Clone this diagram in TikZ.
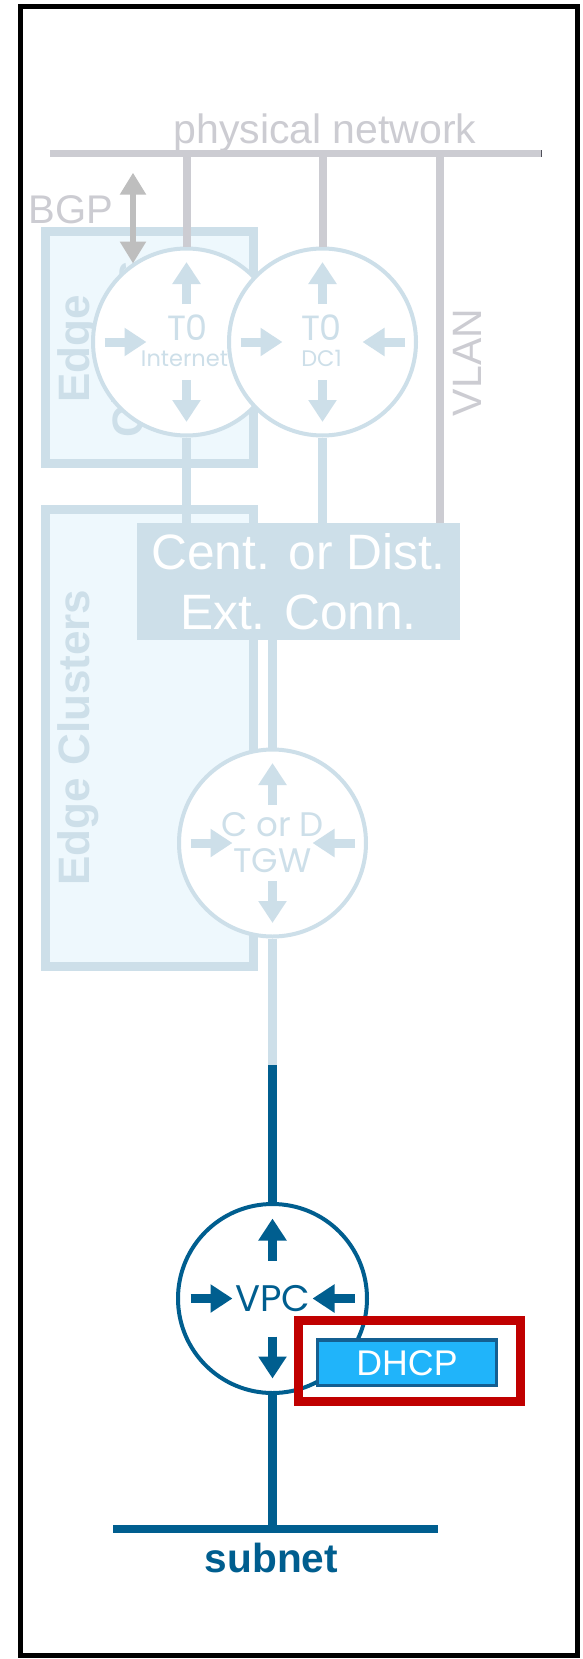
\documentclass[tikz,border=0pt]{standalone}
\usepackage{fontspec}
\setmainfont{Liberation Sans}
\newfontfamily\geofont{Poppins}
\usetikzlibrary{arrows.meta}
\usetikzlibrary{calc}

% four arrows of a router symbol
\newcommand{\routerarrows}[2]{%
  \foreach \ang in {90,270}
    \draw[routerarrow,#2] ($(#1.center)+(\ang:38)$) -- ($(#1.center)+(\ang:80)$);%
  \foreach \ang in {0,180}
    \draw[routerarrow,#2] ($(#1.center)+(\ang:82)$) -- ($(#1.center)+(\ang:40)$);%
}

\begin{document}
\begin{tikzpicture}[x=1pt,y=-1pt,
    greyline/.style={draw=r204g204b210,line width=8pt},
    lightline/.style={draw=r205g223b233,line width=9pt},
    darkline/.style={draw=r0g94b143,line width=8.5pt},
    greytext/.style={text=r204g204b210,inner sep=0pt},
    edgebox/.style={draw=r205g223b233,fill=r238g248b253,line width=9pt,inner sep=0pt,minimum width=208pt},
    edgetext/.style={text=r205g223b233,font=\bfseries\fontsize{44}{54}\selectfont,rotate=90,inner sep=0pt},
    router/.style={circle,fill=white,line width=4pt,minimum size=187pt,inner sep=0pt},
    routerarrow/.style={line width=9pt,-{Triangle[length=22pt,width=27pt]}},
    t0big/.style={text=r205g223b233,font=\geofont\fontsize{35}{35}\selectfont,anchor=base,inner sep=0pt},
    t0small/.style={text=r205g223b233,font=\geofont\fontsize{22.5}{23}\selectfont,anchor=base,inner sep=0pt},
  ]
  % Changing colors
  \definecolor{r205g223b233}{RGB}{205,223,233}%
  \definecolor{r238g248b253}{RGB}{238,248,253}%
  \definecolor{r204g204b210}{RGB}{204,204,210}%
  \definecolor{r190g190b190}{RGB}{190,190,190}%
  \definecolor{r0g94b143}{RGB}{0,94,143}%
  \definecolor{r32g180b250}{RGB}{32,180,250}%
  \definecolor{r20g95b145}{RGB}{20,95,145}%
  \definecolor{r192g0b0}{RGB}{192,0,0}%
  \definecolor{r80g80b90}{RGB}{80,80,90}%

  \fill[white] (0,0) rectangle (582,1659);
  \useasboundingbox (0,0) rectangle (582,1659);

  % Drawing edge clusters
  \node[edgebox,minimum height=231.5pt] (edgeA) at (149,347.25) {};
  \node[edgetext,align=center] (edgeAlabel) at (101,349) {Edge\\Clusters};
  \node[edgebox,minimum height=457pt] (edgeB) at (149,737.5) {};
  \node[edgetext,anchor=base] (edgeBlabel) at (89,737.5) {Edge Clusters};

  % Drawing physical network
  \coordinate (physW) at (50,153.5);
  \coordinate (physE) at (542,153.5);
  \draw[greyline,line width=7pt] (physW) -- (physE);
  \draw[line width=1.5pt,r80g80b90] (541.25,150) -- (541.25,157);
  \node[greytext,anchor=base,font=\fontsize{41}{41}\selectfont] (physlabel) at (325,143) {physical network};
  \coordinate (tapInet) at (186.5,153.5);
  \coordinate (tapDC) at (322.5,153.5);
  \coordinate (tapVlan) at (440,153.5);
  \node[greytext,rotate=90,anchor=base,font=\fontsize{41}{41}\selectfont] (vlanlabel) at (481.7,362.5) {VLAN};

  % Drawing external connectivity
  \node[fill=r205g223b233,text=white,minimum width=323pt,minimum height=117pt,inner sep=0pt,align=center,font=\fontsize{49.7}{60}\selectfont] (ext) at (298.5,581.5) {Cent. or Dist.\\Ext. Conn.};

  % Drawing tier 0 routers
  \node[router,draw=r205g223b233] (t0inet) at (186.5,342) {};
  \routerarrows{t0inet}{r205g223b233}
  \node[t0big] (t0inetName) at (187.5,340) {T0};
  \node[t0small] (t0inetSub) at (184.5,366.7) {Internet};
  \node[router,draw=r205g223b233] (t0dc) at (322.5,342) {};
  \routerarrows{t0dc}{r205g223b233}
  \node[t0big] (t0dcName) at (321.5,340) {T0};
  \node[t0small] (t0dcSub) at (321.5,366.7) {DC1};

  \draw[greyline] (tapInet) -- (t0inet);
  \draw[greyline] (tapDC) -- (t0dc);
  \draw[greyline] (tapVlan) -- (tapVlan |- ext.north);
  \draw[lightline] (t0inet) -- (t0inet |- ext.north);
  \draw[lightline] (t0dc) -- (t0dc |- ext.north);

  % Drawing BGP
  \node[greytext,anchor=base,font=\fontsize{40}{40}\selectfont] (bgplabel) at (71,223) {BGP};
  \coordinate (bgpTop) at (133,172.7);
  \coordinate (bgpBot) at (133,263.5);
  \draw[draw=r190g190b190,line width=6pt,{Triangle[length=22pt,width=25pt]}-{Triangle[length=22pt,width=25pt]}] (bgpTop) -- (bgpBot);

  % Drawing transit gateway
  \node[router,draw=r205g223b233,text=r205g223b233,align=center,font=\geofont\fontsize{34}{36}\selectfont] (tgw) at (272.5,843) {C or D\\TGW};
  \routerarrows{tgw}{r205g223b233}
  \draw[lightline] (tgw.north |- ext.south) -- (tgw);
  \coordinate (vpcfeed) at (272.5,1065);
  \draw[lightline] (tgw) -- (vpcfeed);

  % Drawing VPC
  \node[router,minimum size=189pt,draw=r0g94b143,text=r0g94b143,font=\geofont\fontsize{37}{37}\selectfont] (vpc) at (272.5,1298.5) {VPC};
  \routerarrows{vpc}{r0g94b143}
  \draw[darkline] (vpcfeed) -- (vpc);

  % Drawing DHCP
  \node[fill=r32g180b250,draw=r20g95b145,line width=3.3pt,text=white,minimum width=179.3pt,minimum height=45.7pt,inner sep=0pt,font=\fontsize{35.7}{40}\selectfont] (dhcp) at (407,1362.8) {DHCP};
  \node[draw=r192g0b0,line width=9pt,minimum width=222.5pt,minimum height=81pt,inner sep=0pt] (dhcpmark) at (409.25,1361) {};

  % Drawing subnet
  \coordinate (subW) at (113,1529);
  \coordinate (subE) at (438,1529);
  \draw[darkline,line width=8pt] (subW) -- (subE);
  \draw[darkline] (vpc) -- (vpc |- subW);
  \node[text=r0g94b143,anchor=base,inner sep=0pt,font=\bfseries\fontsize{40.6}{40.6}\selectfont] (sublabel) at (271.5,1572) {subnet};

  % Drawing frame
  \draw[line width=5pt] (20.5,6.2) rectangle (577,1655.5);
\end{tikzpicture}
\end{document}
